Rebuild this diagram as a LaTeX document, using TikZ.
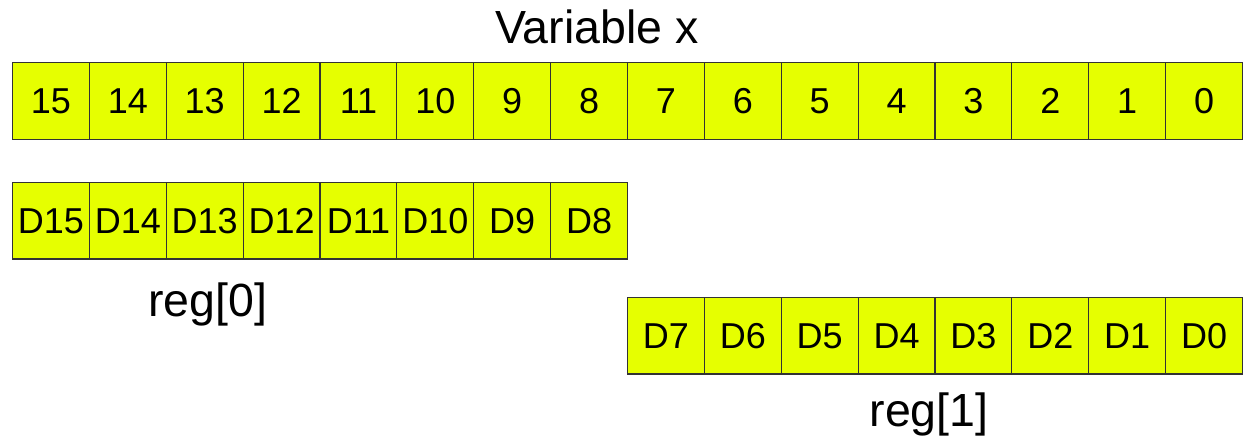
\documentclass[tikz,border=0pt]{standalone}
\usepackage{fontspec}
\setmainfont{Liberation Sans}
\definecolor{cellfill}{HTML}{E6FF00}
\definecolor{cellline}{HTML}{333333}
\tikzset{
  bitcell/.style={draw=cellline, line width=1.2pt, fill=cellfill,
    minimum width=76.875pt, minimum height=76.6pt, inner sep=0pt,
    text height=25.8pt, text depth=0pt, font=\fontsize{36}{43}\selectfont},
  caption/.style={anchor=base, inner sep=0pt, font=\fontsize{46.5}{56}\selectfont}
}
\begin{document}
\begin{tikzpicture}[x=1pt, y=-1pt]
\useasboundingbox (0,0) rectangle (1246,440);
% bits of the variable
\foreach \i in {0,...,15} {
  \pgfmathtruncatemacro{\b}{15-\i}
  \node[bitcell] (x\b) at ({12.5+76.875*(\i+0.5)},101) {\b};
}
% register 0 holds the high byte
\foreach \i in {0,...,7} {
  \pgfmathtruncatemacro{\b}{15-\i}
  \node[bitcell] (ra\b) at ({12.5+76.875*(\i+0.5)},220.6) {D\b};
}
% register 1 holds the low byte
\foreach \i in {0,...,7} {
  \pgfmathtruncatemacro{\b}{7-\i}
  \node[bitcell] (rb\b) at ({627.5+76.875*(\i+0.5)},335.6) {D\b};
}
\node[caption] (title) at (597,43) {Variable x};
\node[caption] (reg0) at (207.5,316.7) {reg[0]};
\node[caption] (reg1) at (929,426.7) {reg[1]};
\end{tikzpicture}
\end{document}
